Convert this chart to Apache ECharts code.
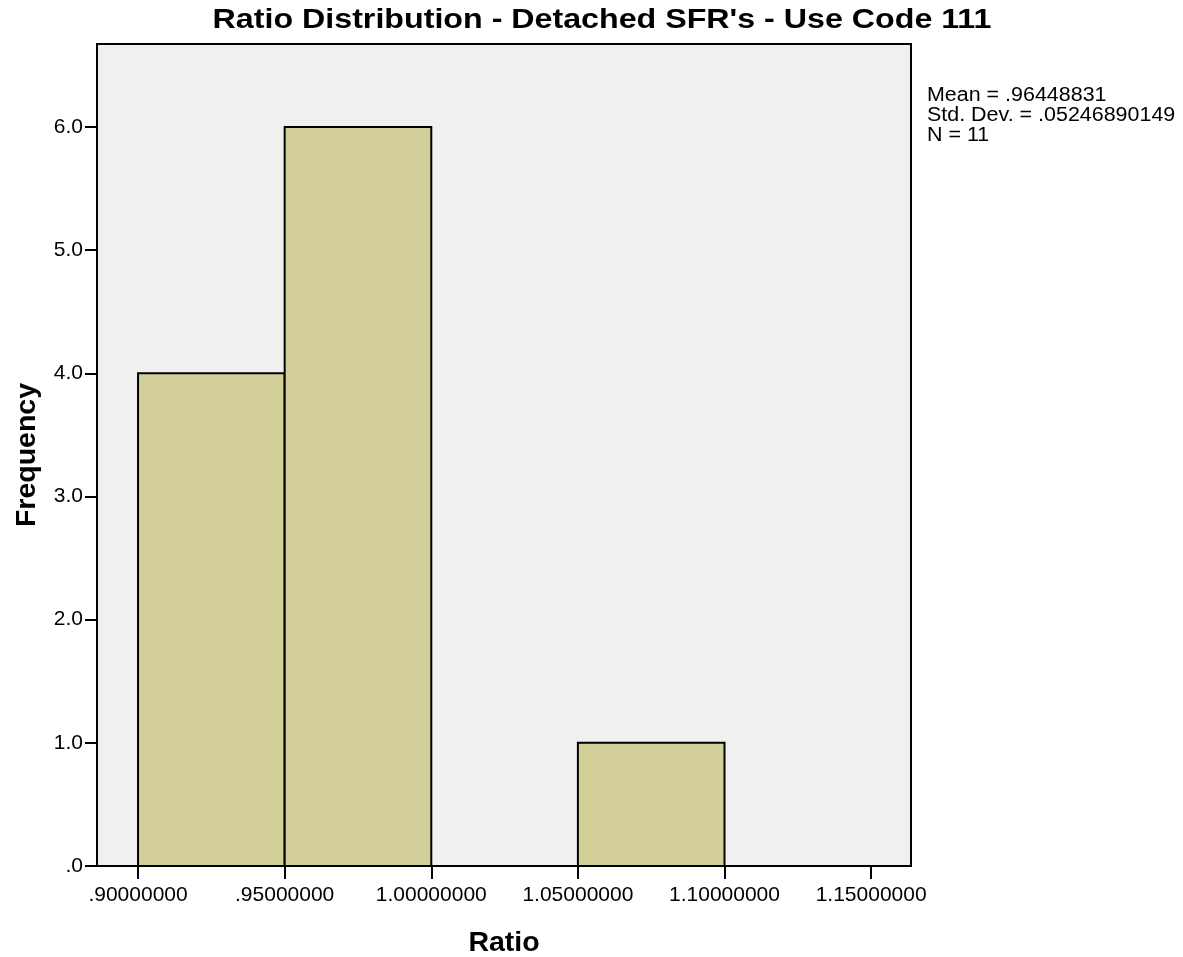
<!DOCTYPE html>
<html>
<head>
<meta charset="utf-8">
<script src="https://cdn.jsdelivr.net/npm/echarts@6/dist/echarts.min.js"></script>
<style>html,body{margin:0;padding:0;background:#fff}#c{width:1183px;height:957px}</style>
</head>
<body>
<div id="c"></div>
<script>
const binStarts = [0.90, 0.95, 1.05];
const binEnds = [0.95, 1.00, 1.10];
const counts = [4, 6, 1];
const xTicks = [0.90, 0.95, 1.00, 1.05, 1.10, 1.15];
const yTicks = [0, 1, 2, 3, 4, 5, 6];
const titleText = "Ratio Distribution - Detached SFR's - Use Code 111";
const statsLines = ['Mean = .96448831', 'Std. Dev. = .05246890149', 'N = 11'];

const FONT = '"Liberation Sans", Arial, sans-serif';
const chart = echarts.init(document.getElementById('c'));
const barData = binStarts.map((s, i) => [s, binEnds[i], counts[i]]);

chart.setOption({
  animation: false,
  backgroundColor: '#ffffff',
  grid: {
    left: 97, top: 44, width: 814, height: 822,
    containLabel: false, outerBoundsMode: 'none',
    show: true, backgroundColor: '#f0f0f0', borderColor: '#000', borderWidth: 2
  },
  xAxis: {
    type: 'value', min: 0.886, max: 1.1636,
    name: 'Ratio', nameLocation: 'middle', nameGap: 63,
    nameTextStyle: { fontFamily: FONT, fontSize: 28.5, fontWeight: 'bold', color: '#000' },
    axisLine: { show: true, lineStyle: { color: '#000', width: 2 } },
    axisTick: { show: true, length: 13, lineStyle: { color: '#000', width: 2 }, customValues: xTicks },
    axisLabel: {
      customValues: xTicks, margin: 19,
      fontFamily: FONT, fontSize: 21, color: '#000',
      formatter: v => v.toFixed(8).replace(/^0/, '')
    },
    splitLine: { show: false }
  },
  yAxis: {
    type: 'value', min: 0, max: 6.674,
    name: 'Frequency', nameLocation: 'middle', nameGap: 55,
    nameTextStyle: { fontFamily: FONT, fontSize: 28.5, fontWeight: 'bold', color: '#000' },
    axisLine: { show: true, lineStyle: { color: '#000', width: 2 } },
    axisTick: { show: true, length: 12, lineStyle: { color: '#000', width: 2 }, customValues: yTicks },
    axisLabel: {
      customValues: yTicks, margin: 14,
      fontFamily: FONT, fontSize: 21, color: '#000',
      formatter: v => v === 0 ? '.0' : v.toFixed(1)
    },
    splitLine: { show: false }
  },
  graphic: [{
    type: 'text', x: 602, y: 6, scaleX: 1.15,
    style: { text: titleText, textAlign: 'center', verticalAlign: 'top',
             fontFamily: FONT, fontSize: 28, fontWeight: 'bold', fill: '#000' }
  }, {
    type: 'text', x: 927, y: 86, scaleX: 1.1,
    style: { text: statsLines.join('\n'), fontFamily: FONT, fontSize: 19.5, lineHeight: 20,
             verticalAlign: 'top', fill: '#000' }
  }],
  series: [{
    type: 'custom',
    data: barData,
    encode: { x: [0, 1], y: 2 },
    renderItem: (params, api) => {
      const p0 = api.coord([api.value(0), 0]);
      const p1 = api.coord([api.value(1), api.value(2)]);
      return {
        type: 'rect',
        shape: { x: p0[0], y: p1[1], width: p1[0] - p0[0], height: p0[1] - p1[1] },
        style: { fill: '#d3cf98', stroke: '#000', lineWidth: 2 }
      };
    }
  }]
});
</script>
</body>
</html>
